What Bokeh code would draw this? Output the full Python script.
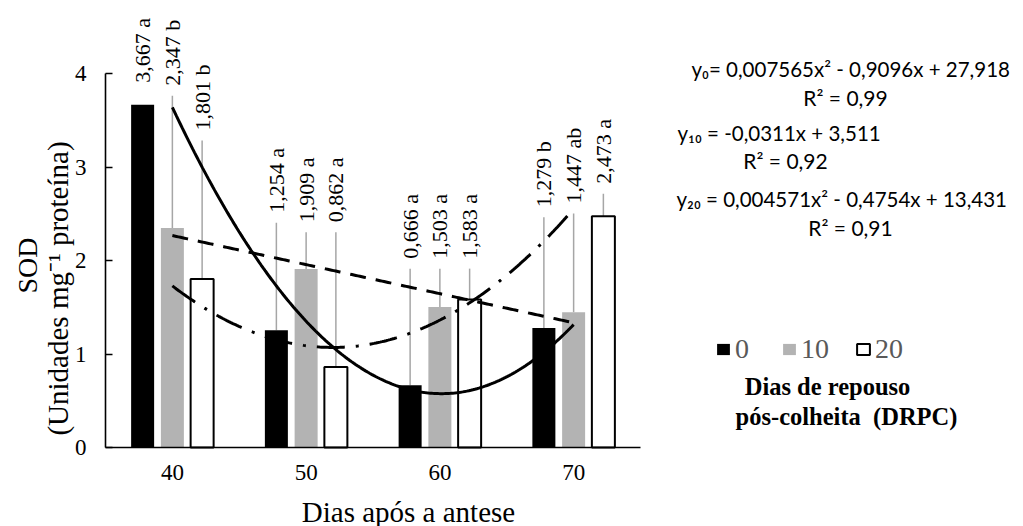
import numpy as np
from bokeh.plotting import figure
from bokeh.models import (Range1d, ColumnDataSource, Label, Legend, LegendItem,
                          FixedTicker)
from bokeh.transform import dodge
from bokeh.core.properties import value
from bokeh.embed import file_html
from bokeh.resources import INLINE

# ---------------- data ----------------
days = [40, 50, 60, 70]
drpc = ["0", "10", "20"]
sod_0 = [3.667, 1.254, 0.666, 1.279]
sod_10 = [2.347, 1.909, 1.503, 1.447]
sod_20 = [1.801, 0.862, 1.583, 2.473]
letters_0 = ["a", "a", "a", "b"]
letters_10 = ["b", "a", "a", "ab"]
letters_20 = ["b", "a", "a", "a"]
# fitted trend-line coefficients shown on the chart (x^2, x, const)
coef_0 = [0.007565, -0.9096, 27.918]
coef_10 = [0.0, -0.0311, 3.511]
coef_20 = [0.004571, -0.4754, 13.431]
eq_texts = ["y\u2080= 0,007565x\u00b2 - 0,9096x + 27,918",
            "y\u2081\u2080 = -0,0311x + 3,511",
            "y\u2082\u2080 = 0,004571x\u00b2 - 0,4754x + 13,431"]
r2_texts = ["R\u00b2 = 0,99", "R\u00b2 = 0,92", "R\u00b2 = 0,91"]

# ---------------- layout (not data) ----------------
# heights (SOD units) at which the moved data labels start
label_base_0 = [3.90, 2.51, 2.02, 2.57]
label_base_10 = [3.87, 2.41, 2.02, 2.61]
label_base_20 = [3.39, 2.41, 2.02, 2.82]

W, H = 1023, 526
AX_L, AX_R, AX_B = 105, 640, 447    # plot area left, right, bottom (px)
XPX = (AX_R - AX_L) / 40.0          # px per day
YPX = 93.5                          # px per SOD unit


def px2x(px):
    return 35 + (px - AX_L) / XPX


def py2y(py):
    return (AX_B - py) / YPX


SERIF = "Liberation Serif, Times New Roman, serif"
SANS = "Lato, Carlito, sans-serif"

p = figure(width=W, height=H, output_backend="svg", toolbar_location=None,
           x_range=Range1d(px2x(0), px2x(W)), y_range=Range1d(py2y(H), py2y(0)),
           min_border=0)
p.outline_line_color = None
p.grid.visible = False
p.background_fill_color = "white"
p.border_fill_color = "white"

# axes, fixed at the plot-area edges
p.xaxis.fixed_location = 0
p.xaxis.bounds = (35, 75)
p.xaxis.ticker = FixedTicker(ticks=days)
p.xaxis.major_tick_in = 0
p.xaxis.major_tick_out = 0
p.xaxis.minor_tick_line_color = None
p.xaxis.axis_line_width = 1.6
p.xaxis.axis_line_color = "black"
p.xaxis.major_label_text_font = SERIF
p.xaxis.major_label_text_font_size = "23px"
p.xaxis.major_label_text_color = "black"
p.xaxis.major_label_standoff = 17

p.yaxis.fixed_location = 35
p.yaxis.ticker = FixedTicker(ticks=[0, 1, 2, 3, 4])
p.yaxis.bounds = (0, 4)
p.yaxis.major_tick_in = 7
p.yaxis.major_tick_out = 0
p.yaxis.major_tick_line_width = 1.6
p.yaxis.minor_tick_line_color = None
p.yaxis.axis_line_width = 1.6
p.yaxis.axis_line_color = "black"
p.yaxis.major_label_text_font = SERIF
p.yaxis.major_label_text_font_size = "23px"
p.yaxis.major_label_text_color = "black"
p.yaxis.major_label_standoff = 19

OFF = 29.75 / XPX
BW = 23 / XPX

series = [
    (sod_0, letters_0, label_base_0, -OFF, "black", None),
    (sod_10, letters_10, label_base_10, 0.0, "#b3b3b3", None),
    (sod_20, letters_20, label_base_20, OFF, "white", "black"),
]

renderers = []
for vals, lets, base, off, fill, line in series:
    labels = [("%.3f" % v).replace(".", ",") + " " + l for v, l in zip(vals, lets)]
    lead_top = [b - 10 / YPX if (b - v) > 0.3 else v for v, b in zip(vals, base)]
    src = ColumnDataSource(dict(day=days, val=vals, lab=labels, base=base,
                                lead=lead_top))
    # leader lines
    p.segment(x0=dodge("day", off, range=p.x_range), y0="val",
              x1=dodge("day", off, range=p.x_range), y1="lead",
              source=src, line_color="#a6a6a6", line_width=1.5)
    r = p.vbar(x=dodge("day", off, range=p.x_range), top="val", width=BW,
               source=src, fill_color=fill,
               line_color=line if line else fill,
               line_width=2 if line else 0.1, line_alpha=1 if line else 0)
    renderers.append(r)
    p.text(x=dodge("day", off, range=p.x_range), y="base", text="lab",
           source=src, angle=np.pi / 2, text_align="left",
           text_baseline="middle", text_font=value(SERIF),
           text_font_size="22px", text_color="black")

# trend lines from the fitted equations
xs = np.linspace(40, 70, 200)
p.line(xs, np.polyval(coef_0, xs), line_color="black", line_width=3)
p.line(xs, np.polyval(coef_10, xs), line_color="black", line_width=3,
       line_dash="16 10")
p.line(xs, np.polyval(coef_20, xs), line_color="black", line_width=3,
       line_dash="28 11 3 11")

# legend
legend = Legend(items=[LegendItem(label=drpc[i], renderers=[renderers[i]])
                       for i in range(3)],
                orientation="horizontal", location=(715, H - 365),
                glyph_width=16, glyph_height=14, label_standoff=4,
                spacing=26, padding=0, margin=0,
                label_text_font=SERIF, label_text_font_size="28px",
                label_text_color="#595959",
                background_fill_alpha=0, border_line_color=None)
p.add_layout(legend, "center")

# legend title
for txt, px, py in [("Dias de repouso", 827, 386),
                    ("pós-colheita\u00a0\u00a0(DRPC)", 846, 416)]:
    p.add_layout(Label(x=px2x(px), y=py2y(py), text=txt, text_align="center",
                       text_baseline="middle", text_font=SERIF,
                       text_font_size="24.5px", text_font_style="bold",
                       text_color="black"))

# equations
eq_pos = [(691, 68, "left"), (677, 132, "left"), (676, 198, "left")]
r2_pos = [(845, 97), (785, 160), (850, 227)]
for t, (px, py, al) in zip(eq_texts, eq_pos):
    p.add_layout(Label(x=px2x(px), y=py2y(py), text=t, text_align=al,
                       text_baseline="middle", text_font=SANS,
                       text_font_size="20.5px", text_color="black"))
for t, (px, py) in zip(r2_texts, r2_pos):
    p.add_layout(Label(x=px2x(px), y=py2y(py), text=t, text_align="center",
                       text_baseline="middle", text_font=SANS,
                       text_font_size="21px", text_color="black"))

# axis titles
p.add_layout(Label(x=px2x(408), y=py2y(511), text="Dias após a antese",
                   text_align="center", text_baseline="middle",
                   text_font=SERIF, text_font_size="29px", text_color="black"))
p.add_layout(Label(x=px2x(27), y=py2y(265), text="SOD", angle=np.pi / 2,
                   text_align="center", text_baseline="middle",
                   text_font=SERIF, text_font_size="28px", text_color="black"))
p.add_layout(Label(x=px2x(57), y=py2y(288),
                   text="(Unidades mg\u207b\u00b9 proteína)", angle=np.pi / 2,
                   text_align="center", text_baseline="middle",
                   text_font=SERIF, text_font_size="29px", text_color="black"))

open("out.html", "w").write(file_html(p, INLINE))
